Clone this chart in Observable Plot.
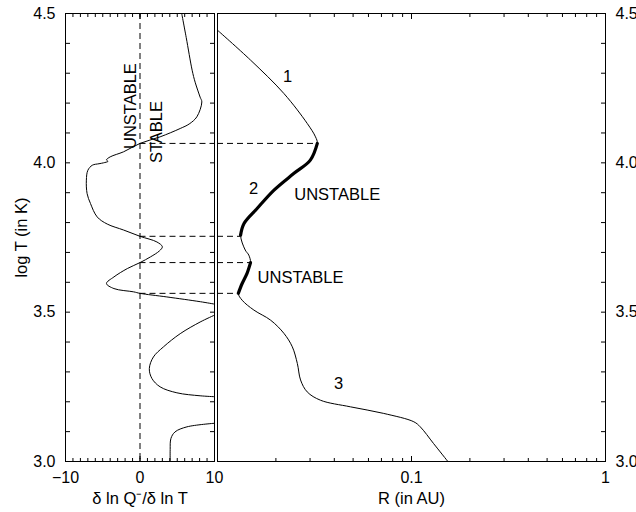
<!DOCTYPE html>
<html><head><meta charset="utf-8">
<script src="https://cdn.jsdelivr.net/npm/d3@7"></script>
<script src="https://cdn.jsdelivr.net/npm/@observablehq/plot@0.6"></script>
<style>
body{margin:0;background:#fff;}
#chart{position:relative;width:636px;height:512px;overflow:hidden;background:#fff;}
#chart svg{position:absolute;left:0;top:0;}
</style></head><body><div id="chart"></div>
<script>
// ---- data: left panel, d ln Q- / d ln T versus log T (three visible pieces)
const leftSlope = [5.6,6.2,7.0,7.4,8.07,8.3,7.63,6.6,5.4,2.7,0,-2.2,-4.0,-4.5,-4.3,-4.9,-5.5,-6.4,-7.0,-7.2,-7.1,-6.65,-5.75,-4.4,-2.2,0,2.27,3.0,2.6,1.4,0,-1.7,-3.5,-4.5,-3.5,-0.85,0,3.6,8.1,10,
                   10,8.07,5.4,3.16,1.8,1.25,1.6,2.7,4.95,8.07,10,
                   10,6.3,4.7,4.15,4.05,4.05];
const leftLogT  = [4.50,4.42,4.31,4.27,4.22,4.204,4.154,4.13,4.115,4.087,4.065,4.037,4.020,4.010,4.005,4.000,3.997,3.992,3.975,3.942,3.897,3.864,3.819,3.795,3.775,3.754,3.735,3.719,3.705,3.685,3.666,3.646,3.618,3.596,3.579,3.568,3.563,3.551,3.535,3.527,
                   3.49,3.467,3.428,3.384,3.35,3.311,3.278,3.25,3.23,3.22,3.217,
                   3.128,3.116,3.099,3.077,3.04,3.0];
const leftPiece = [...Array(40).fill(1), ...Array(11).fill(2), ...Array(6).fill(3)];

// ---- data: right panel, R (AU) versus log T
const rightR    = [0.0100,0.0148,0.0220,0.0290,0.0320,0.0327,0.0301,0.0247,0.0195,0.0160,0.0137,0.01315,0.0139,0.0145,0.0148,0.0142,0.0134,0.0128,0.0134,0.0154,0.0188,0.0220,0.0243,0.0258,0.0268,0.0290,0.0340,0.0485,0.0719,0.1028,0.111,0.130,0.154];
const rightLogT = [4.444,4.344,4.232,4.132,4.087,4.065,4.009,3.964,3.908,3.847,3.797,3.758,3.708,3.691,3.666,3.630,3.596,3.563,3.54,3.507,3.473,3.429,3.384,3.328,3.273,3.233,3.205,3.183,3.161,3.133,3.116,3.06,3.0];
const unstableTop    = [4.065, 3.666];
const unstableBottom = [3.758, 3.563];

// ---- dashed marker levels
const dashLogT = [4.065, 3.754, 3.666, 3.563];
const dashR    = [0.0327, 0.01315, 0.0148, 0.0128];

// ---- annotations
const rightText  = ["1", "2", "3", "UNSTABLE", "UNSTABLE"];
const rightTextR = [0.0230, 0.01534, 0.0421, 0.0414, 0.0268];
const rightTextT = [4.29, 3.915, 3.26, 3.892, 3.614];
const leftText  = ["UNSTABLE", "STABLE"];
const leftTextX = [-1.3, 2.2];
const leftTextT = [4.19, 4.103];

// ---- ticks
const yLabelTicks = [3.0, 3.5, 4.0, 4.5];
const yMinorTicks = d3.range(30, 46).map(d => d / 10);
const xLeftLabels = [-10, 0, 10];
const xLeftMinor  = d3.range(-10, 11);
const xRightLabels = [0.1, 1];
const xRightMinor  = [2,3,4,5,6,7,8,9].flatMap(k => [k / 100, k / 10]);

const leftData  = leftSlope.map((s, i) => ({s, t: leftLogT[i], piece: leftPiece[i]}));
const rightData = rightR.map((r, i) => ({r, t: rightLogT[i]}));
const thickData = rightData.flatMap(d => {
  const k = unstableTop.findIndex((top, j) => d.t <= top + 1e-9 && d.t >= unstableBottom[j] - 1e-9);
  return k < 0 ? [] : [{...d, part: k}];
});
const dashLeft  = dashLogT.map(t => ({t, x1: 0, x2: 10}));
const dashRight = dashLogT.map((t, i) => ({t, x1: 0.01, x2: dashR[i]}));
const rText = rightText.map((text, i) => ({text, r: rightTextR[i], t: rightTextT[i]}));
const lText = leftText.map((text, i) => ({text, x: leftTextX[i], t: leftTextT[i]}));

const W = 636, H = 512;
const FONT = "'Liberation Sans', Arial, Helvetica, sans-serif";
const TICKFS = 16, TEXTFS = 16.5;
const common = {
  width: W, height: H, marginTop: 13, marginBottom: 51,
  y: {domain: [3.0, 4.5]},
  style: {background: "transparent", overflow: "visible", fontFamily: FONT, fontSize: "16px", color: "black"}
};
const tickOpts = {stroke: "black", fill: "none", label: null};
const fmt1 = d3.format(".1f");

const left = Plot.plot({
  ...common,
  marginLeft: 65, marginRight: W - 214,
  x: {domain: [-10, 10]},
  marks: [
    Plot.ruleX([0], {stroke: "black", strokeWidth: 1, strokeDasharray: "6,4"}),
    Plot.ruleY(dashLeft, {y: "t", x1: "x1", x2: "x2", stroke: "black", strokeDasharray: "6,4"}),
    Plot.line(leftData, {x: "s", y: "t", z: "piece", stroke: "black", strokeWidth: 1, curve: "catmull-rom"}),
    Plot.text(lText, {x: "x", y: "t", text: "text", rotate: -90, textAnchor: "middle", lineAnchor: "middle", fontSize: TEXTFS, fill: "black"}),
    Plot.frame({stroke: "black"}),
    Plot.axisY({anchor: "left", ticks: yMinorTicks, tickSize: -5, ...tickOpts}),
    Plot.axisY({anchor: "right", ticks: yMinorTicks, tickSize: -5, ...tickOpts}),
    Plot.axisX({anchor: "bottom", ticks: xLeftMinor, tickSize: -3, ...tickOpts}),
    Plot.axisX({anchor: "top", ticks: xLeftMinor, tickSize: -3, ...tickOpts}),
    Plot.axisX({anchor: "bottom", ticks: xLeftLabels, tickSize: -5, ...tickOpts}),
    Plot.axisX({anchor: "top", ticks: xLeftLabels, tickSize: -5, ...tickOpts}),
    Plot.axisY({anchor: "left", ticks: yLabelTicks, tickSize: 0, tickPadding: 10, tickFormat: fmt1, label: null, fill: "black", fontSize: TICKFS}),
    Plot.axisX({anchor: "bottom", ticks: xLeftLabels, tickSize: 0, tickPadding: 10, tickFormat: d3.format("d"), label: null, fill: "black", fontSize: TICKFS}),
    Plot.text(["δ ln Q⁻/δ ln T"], {frameAnchor: "bottom", dy: 37, text: d => d, textAnchor: "middle", lineAnchor: "middle", fontSize: TEXTFS, fill: "black"}),
    Plot.text(["log T (in K)"], {frameAnchor: "left", dx: -44, rotate: -90, text: d => d, textAnchor: "middle", lineAnchor: "middle", fontSize: TEXTFS, fill: "black"})
  ]
});

const right = Plot.plot({
  ...common,
  marginLeft: 217, marginRight: W - 605,
  x: {type: "log", domain: [0.01, 1]},
  marks: [
    Plot.ruleY(dashRight, {y: "t", x1: "x1", x2: "x2", stroke: "black", strokeDasharray: "6,4"}),
    Plot.line(rightData, {x: "r", y: "t", stroke: "black", strokeWidth: 1, curve: "catmull-rom"}),
    Plot.line(thickData, {x: "r", y: "t", z: "part", stroke: "black", strokeWidth: 3.2, curve: "catmull-rom", strokeLinecap: "round"}),
    Plot.text(rText, {x: "r", y: "t", text: "text", textAnchor: "middle", lineAnchor: "middle", fontSize: TEXTFS, fill: "black"}),
    Plot.frame({stroke: "black"}),
    Plot.axisY({anchor: "right", ticks: yMinorTicks, tickSize: -5, ...tickOpts}),
    Plot.axisX({anchor: "bottom", ticks: xRightMinor, tickSize: -3, ...tickOpts}),
    Plot.axisX({anchor: "top", ticks: xRightMinor, tickSize: -3, ...tickOpts}),
    Plot.axisX({anchor: "bottom", ticks: xRightLabels, tickSize: -5, ...tickOpts}),
    Plot.axisX({anchor: "top", ticks: xRightLabels, tickSize: -5, ...tickOpts}),
    Plot.axisY({anchor: "right", ticks: yLabelTicks, tickSize: 0, tickPadding: 10, tickFormat: fmt1, label: null, fill: "black", fontSize: TICKFS}),
    Plot.axisX({anchor: "bottom", ticks: xRightLabels, tickSize: 0, tickPadding: 10, tickFormat: d => String(d), label: null, fill: "black", fontSize: TICKFS}),
    Plot.text(["R (in AU)"], {frameAnchor: "bottom", dy: 37, text: d => d, textAnchor: "middle", lineAnchor: "middle", fontSize: TEXTFS, fill: "black"})
  ]
});

const chart = document.getElementById("chart");
chart.appendChild(left);
chart.appendChild(right);
</script>
</body></html>
